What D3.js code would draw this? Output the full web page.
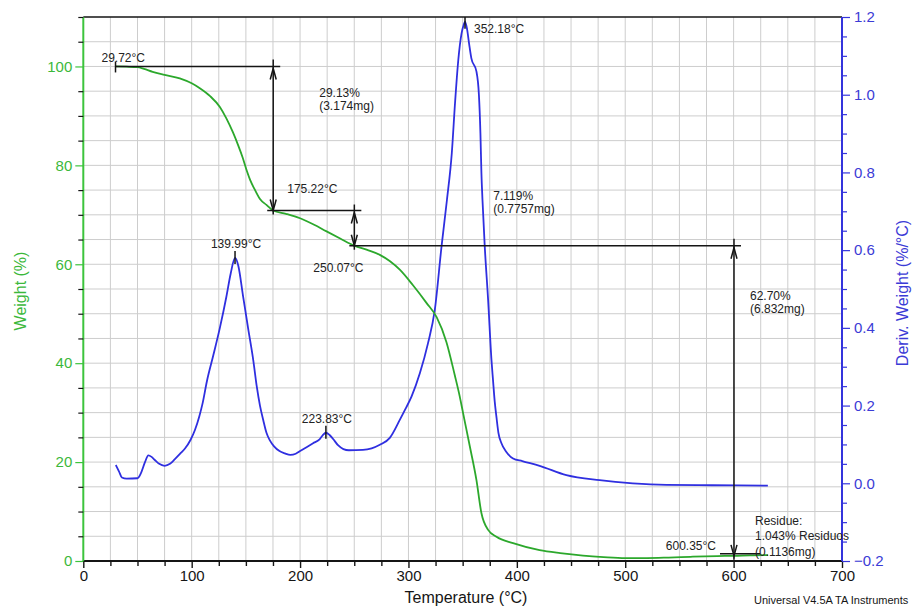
<!DOCTYPE html>
<html>
<head>
<meta charset="utf-8">
<script src="https://cdn.jsdelivr.net/npm/d3@7"></script>
<style>
  html, body { margin: 0; padding: 0; background: #fff; overflow: hidden; }
  svg { display: block; font-family: "Liberation Sans", Arial, sans-serif; }
</style>
</head>
<body>
<svg id="chart" width="915" height="610"></svg>
<script>
// TGA: sample weight (%) against temperature (°C)
const tgaTemp = [29.72, 40, 50, 56, 64, 75, 89, 100, 107.5, 117, 126, 132, 138, 143, 147, 151, 154, 158, 163, 169,
  175.22, 187, 200, 213, 224, 237, 250.07, 262, 273.6, 283, 292, 304, 316.6, 326, 335, 342.7, 347.3, 350.4,
  356.6, 362.7, 367.3, 373.5, 381.2, 396.5, 421, 440, 461, 480, 500, 520, 540, 560, 585, 600.35, 615, 631.7];
const tgaWeight = [100, 99.95, 99.85, 99.5, 98.9, 98.3, 97.6, 96.6, 95.6, 94.0, 91.8, 89.5, 86.7, 84.0, 81.6, 78.8, 77.0, 75.2, 73.2, 72.0,
  70.87, 70.2, 69.3, 68.0, 66.7, 65.2, 63.75, 62.9, 61.9, 60.6, 58.9, 55.8, 52.2, 49.3, 44.3, 37.6, 33.3, 29.9,
  23.2, 16.4, 9.7, 6.3, 4.9, 3.6, 2.2, 1.6, 1.1, 0.8, 0.6, 0.6, 0.7, 0.85, 1.0, 1.043, 1.15, 1.2];

// DTG: derivative weight (%/°C) against temperature (°C)
const dtgTemp = [30, 33, 35.6, 40, 50, 53, 57, 60, 63, 66, 70, 75, 80, 84.5, 90, 94, 99, 103, 107, 110, 114, 120, 126,
  132, 136, 140, 143, 147.5, 152, 156.8, 160, 163, 166, 169, 172, 176, 181, 186, 191, 196, 200, 206, 212, 218, 221,
  223.83, 227, 230.5, 235, 240, 245, 258, 266, 273.6, 282.8, 292, 297, 302.8, 310.5, 318, 324.3, 330.5, 335.5,
  340, 343, 346, 349, 351, 352.18, 354, 356, 358, 362.7, 365, 366.4, 367.3, 368.3, 370.4, 373.5, 376.6, 378,
  379.6, 381.2, 383, 385.8, 390, 396.5, 405, 421, 445.7, 476.4, 507, 538, 580, 631.6];
const dtgDeriv = [0.047, 0.03, 0.015, 0.012, 0.013, 0.025, 0.055, 0.072, 0.068, 0.06, 0.05, 0.045, 0.05, 0.062, 0.078,
  0.09, 0.112, 0.137, 0.172, 0.205, 0.262, 0.33, 0.4, 0.48, 0.54, 0.58, 0.56, 0.48, 0.4, 0.317, 0.25, 0.2, 0.163, 0.13,
  0.111, 0.095, 0.083, 0.077, 0.073, 0.076, 0.083, 0.093, 0.103, 0.113, 0.124, 0.13, 0.125, 0.114, 0.098, 0.088,
  0.085, 0.086, 0.09, 0.099, 0.117, 0.163, 0.19, 0.223, 0.283, 0.36, 0.446, 0.609, 0.729, 0.85, 0.98, 1.09,
  1.158, 1.18, 1.188, 1.17, 1.13, 1.094, 1.06, 1.0, 0.901, 0.8, 0.729, 0.609, 0.472, 0.317, 0.266, 0.21, 0.17,
  0.13, 0.103, 0.082, 0.064, 0.057, 0.045, 0.021, 0.008, 0.0, -0.004, -0.005, -0.006];

// Axis ticks
const tempTicks = [0, 100, 200, 300, 400, 500, 600, 700];
const weightTicks = [0, 20, 40, 60, 80, 100];
const derivTicks = [-0.2, 0.0, 0.2, 0.4, 0.6, 0.8, 1.0, 1.2];

// DTG peak markers
const peakTemps = [139.99, 223.83, 352.18];
const peakDerivs = [0.58, 0.13, 1.188];
const peakLabels = ["139.99°C", "223.83°C", "352.18°C"];

// Step analysis: onset temperatures and weights
const stepTemps = [29.72, 175.22, 250.07, 600.35];
const stepWeights = [100, 70.87, 63.751, 1.043];
const stepTempLabels = ["29.72°C", "175.22°C", "250.07°C", "600.35°C"];
const stepLossPct = ["29.13%", "7.119%", "62.70%"];
const stepLossMg = ["(3.174mg)", "(0.7757mg)", "(6.832mg)"];
const residueLines = ["Residue:", "1.043% Residuos", "(0.1136mg)"];

const GREEN_LINE = "#2ca82c", GREEN_AXIS = "#3cc43c", GREEN_TEXT = "#3bb83b";
const BLUE_LINE = "#2f2fe0", BLUE_AXIS = "#3434dc", BLUE_TEXT = "#3b3bd6";
const INK = "#151515";

const svg = d3.select("#chart");
const L = 83.3, R = 842, T = 17, B = 561;

const x = d3.scaleLinear().domain([0, 700]).range([L, R]);
const yW = d3.scaleLinear().domain([0, 110]).range([B, T]);
const yD = d3.scaleLinear().domain([-0.2, 1.2]).range([B, T]);

// grid
const grid = svg.append("g").attr("stroke", "#cdcdcd").attr("stroke-width", 1);
grid.selectAll("line.v").data(d3.range(25, 700, 25)).join("line")
  .attr("x1", d => x(d)).attr("x2", d => x(d)).attr("y1", T).attr("y2", B);
grid.selectAll("line.h").data(d3.range(5, 110, 5)).join("line")
  .attr("x1", L).attr("x2", R).attr("y1", d => yW(d)).attr("y2", d => yW(d));

// top frame line
svg.append("line").attr("x1", L).attr("x2", R).attr("y1", T).attr("y2", T)
  .attr("stroke", INK).attr("stroke-width", 1.5);

// curves
svg.append("defs").append("clipPath").attr("id", "plot")
  .append("rect").attr("x", L).attr("y", T - 2).attr("width", R - L).attr("height", B - T + 2);

const tgaLine = d3.line().x((d, i) => x(tgaTemp[i])).y(d => yW(d)).curve(d3.curveMonotoneX);
const dtgLine = d3.line().x((d, i) => x(dtgTemp[i])).y(d => yD(d)).curve(d3.curveMonotoneX);

const curves = svg.append("g").attr("clip-path", "url(#plot)").attr("fill", "none")
  .attr("stroke-linejoin", "round");
curves.append("path").attr("d", dtgLine(dtgDeriv)).attr("stroke", BLUE_LINE).attr("stroke-width", 1.8);
curves.append("path").attr("d", tgaLine(tgaWeight)).attr("stroke", GREEN_LINE).attr("stroke-width", 1.8);

// axes
const isMajorDeriv = d => derivTicks.some(t => Math.abs(t - d) < 1e-9);

const xAxis = d3.axisBottom(x).tickValues(d3.range(0, 701, 25))
  .tickFormat(d => tempTicks.includes(d) ? String(d) : "").tickSize(6).tickPadding(3);
const gx = svg.append("g").attr("transform", `translate(0,${B})`).call(xAxis);
gx.select(".domain").attr("stroke", INK).attr("stroke-width", 1.8).attr("d", `M${L},0H${R}`);
gx.selectAll(".tick line").attr("stroke", INK).attr("stroke-width", 1.4)
  .attr("y2", d => tempTicks.includes(d) ? 7 : 5);
gx.selectAll(".tick text").attr("fill", INK).style("font-size", "15px")
  .style("font-family", "'Liberation Sans', Arial, sans-serif");

const yAxisL = d3.axisLeft(yW).tickValues(d3.range(0, 111, 5))
  .tickFormat(d => weightTicks.includes(d) ? String(d) : "").tickSize(8).tickPadding(3);
const gyl = svg.append("g").attr("transform", `translate(${L},0)`).call(yAxisL);
gyl.select(".domain").attr("stroke", GREEN_AXIS).attr("stroke-width", 2).attr("d", `M0,${T}V${B}`);
gyl.selectAll(".tick line").attr("stroke-width", 1.2)
  .attr("x2", d => weightTicks.includes(d) ? -8 : -5)
  .attr("stroke", d => weightTicks.includes(d) ? GREEN_AXIS : INK);
gyl.selectAll(".tick text").attr("fill", GREEN_TEXT).style("font-size", "15px")
  .style("font-family", "'Liberation Sans', Arial, sans-serif");

const derivAll = d3.range(-4, 25).map(k => +(k * 0.05).toFixed(2));
const yAxisR = d3.axisRight(yD).tickValues(derivAll)
  .tickFormat(d => isMajorDeriv(d) ? d3.format(".1f")(d) : "")
  .tickSize(8).tickPadding(4);
const gyr = svg.append("g").attr("transform", `translate(${R},0)`).call(yAxisR);
gyr.select(".domain").attr("stroke", BLUE_AXIS).attr("stroke-width", 2).attr("d", `M0,${T}V${B}`);
gyr.selectAll(".tick line").attr("stroke", BLUE_AXIS).attr("stroke-width", 1.2)
  .attr("x2", d => isMajorDeriv(d) ? 8 : 5);
gyr.selectAll(".tick text").attr("fill", BLUE_TEXT).style("font-size", "15px")
  .style("font-family", "'Liberation Sans', Arial, sans-serif");

// axis titles
svg.append("text").attr("x", 466).attr("y", 603).attr("text-anchor", "middle")
  .attr("fill", INK).style("font-size", "16px").text("Temperature (°C)");
svg.append("text").attr("transform", "translate(26,291) rotate(-90)").attr("text-anchor", "middle")
  .attr("fill", GREEN_TEXT).style("font-size", "16px").text("Weight (%)");
svg.append("text").attr("transform", "translate(908,293) rotate(-90)").attr("text-anchor", "middle")
  .attr("fill", BLUE_TEXT).style("font-size", "16px").text("Deriv. Weight (%/°C)");
svg.append("text").attr("x", 754).attr("y", 604).attr("fill", INK)
  .style("font-size", "11px").text("Universal V4.5A TA Instruments");

// annotations
const ann = svg.append("g").attr("stroke", INK).attr("stroke-width", 1.5).attr("fill", "none");
const txt = svg.append("g").attr("fill", "#222").style("font-size", "12px");

function seg(x1, y1, x2, y2) {
  ann.append("line").attr("x1", x1).attr("y1", y1).attr("x2", x2).attr("y2", y2);
}
function arrowUp(cx, tip) {
  ann.append("path").attr("d", `M${cx - 3},${tip + 11}L${cx},${tip}L${cx + 3},${tip + 11}`);
}
function arrowDown(cx, tip) {
  ann.append("path").attr("d", `M${cx - 3},${tip - 11}L${cx},${tip}L${cx + 3},${tip - 11}`);
}
function label(px, py, s, anchor) {
  txt.append("text").attr("x", px).attr("y", py).attr("text-anchor", anchor || "start").text(s);
}

// DTG peaks
peakTemps.forEach((t, i) => {
  const px = x(t), py = yD(peakDerivs[i]);
  if (py - 22 < T) {
    seg(px, T, px, py + 7);
    label(px + 9, T + 16, peakLabels[i]);
  } else {
    seg(px, py - 7, px, py + 6);
    label(px + 1, py - 10, peakLabels[i], "middle");
  }
});

// weight-loss steps
const sx = stepTemps.map(x), sy = stepWeights.map(yW);

// onset marker
seg(sx[0], sy[0] - 5, sx[0], sy[0] + 6);
label(sx[0] - 14, sy[0] - 4, stepTempLabels[0]);

// step 1
seg(sx[0], sy[0], sx[1] + 7, sy[0]);
seg(sx[1], sy[0] - 7, sx[1], sy[1] + 4);
arrowUp(sx[1], sy[0] + 2);
arrowDown(sx[1], sy[1]);
seg(sx[1] - 6, sy[1], sx[2] + 7, sy[1]);
label(sx[1] + 14, sy[1] - 18, stepTempLabels[1]);
label(sx[1] + 46, sy[0] + 31, stepLossPct[0]);
label(sx[1] + 46, sy[0] + 44, stepLossMg[0]);

// step 2
seg(sx[2], sy[1] - 6, sx[2], sy[2] + 4);
arrowUp(sx[2], sy[1] + 2);
arrowDown(sx[2], sy[2]);
seg(sx[2] - 5, sy[2], sx[3] + 7, sy[2]);
label(sx[2] - 41, sy[2] + 26, stepTempLabels[2]);
label(sx[2] + 139, sy[2] - 46, stepLossPct[1]);
label(sx[2] + 139, sy[2] - 33, stepLossMg[1]);

// step 3 and residue
seg(sx[3], sy[2] - 7, sx[3], sy[3] + 4);
arrowUp(sx[3], sy[2] + 2);
arrowDown(sx[3], sy[3]);
seg(sx[3] - 14, sy[3] - 2, sx[3] + 26, sy[3] - 2);
label(sx[3] - 18, sy[3] - 6, stepTempLabels[3], "end");
label(sx[3] + 16, sy[2] + 54, stepLossPct[2]);
label(sx[3] + 16, sy[2] + 67, stepLossMg[2]);
residueLines.forEach((s, i) => label(sx[3] + 21, sy[3] - 31 + i * 15.5, s));
</script>
</body>
</html>
